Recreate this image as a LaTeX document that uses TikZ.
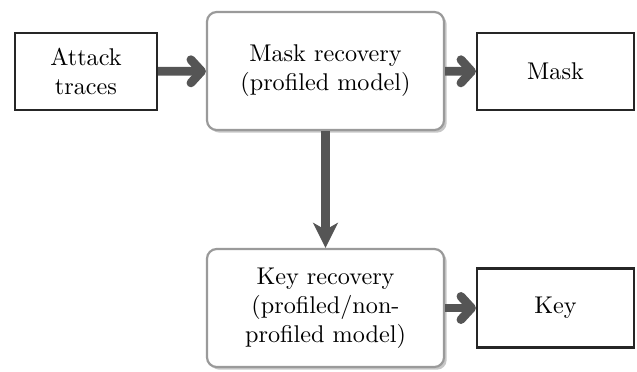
\documentclass[tikz,border=0pt]{standalone}
\usetikzlibrary{arrows.meta,shadows}
\definecolor{flowgray}{HTML}{555555}
\definecolor{framegray}{HTML}{9A9A9A}
\begin{document}
\begin{tikzpicture}[x=0.413pt,y=-0.413pt,
  plainbox/.style={draw=black!85,line width=0.9pt,align=center,inner sep=0pt},
  roundbox/.style={draw=framegray,line width=0.9pt,rounded corners=4pt,fill=white,
    align=center,inner sep=0pt,
    drop shadow={shadow xshift=1.1pt,shadow yshift=-1.1pt,fill=black!22,opacity=1}},
  flow/.style={draw=flowgray,line width=3.6pt,
    -{Straight Barb[round,length=4.4pt,width=9.6pt]}},
  drop/.style={draw=flowgray,fill=flowgray,line width=3.6pt,
    -{Stealth[length=10.5pt,width=10.5pt,inset=3pt,line width=0pt]}}]
\useasboundingbox (0,0) rectangle (637,371);

\node[plainbox,minimum width=142*0.413pt,minimum height=77*0.413pt]
  (att) at (86,71.5) {Attack\\traces};
\node[roundbox,minimum width=237*0.413pt,minimum height=118*0.413pt]
  (mrec) at (325.5,71) {Mask recovery\\(profiled model)};
\node[plainbox,minimum width=157*0.413pt,minimum height=77*0.413pt]
  (mask) at (555.5,71.5) {Mask};
\node[roundbox,minimum width=237*0.413pt,minimum height=118*0.413pt]
  (krec) at (325.5,308) {Key recovery\\(profiled/non-\\profiled model)};
\node[plainbox,minimum width=157*0.413pt,minimum height=79*0.413pt]
  (key) at (555.5,308) {Key};

\draw[flow] (att) -- (mrec);
\draw[flow] (mrec) -- (mask);
\draw[flow] (krec) -- (key);
\draw[drop] (mrec) -- (krec);
\end{tikzpicture}
\end{document}
